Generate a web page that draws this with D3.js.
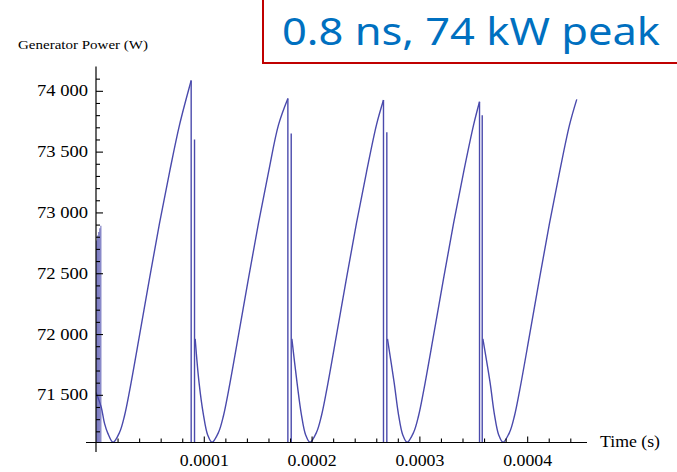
<!DOCTYPE html>
<html><head><meta charset="utf-8">
<script src="https://cdn.jsdelivr.net/npm/d3@7"></script>
<style>body{margin:0;background:#fff;} svg{display:block;}</style>
</head><body>
<svg id="c" width="677" height="472"></svg>
<script>
// ---- data (time in units of 10 microseconds, power in W) ----
const seg0T = [0, 0.48, 0.79, 1.09, 1.58, 2.18, 2.65, 3.11, 4.04, 4.97, 5.89, 6.82, 7.75, 8.83];
const seg0P = [71520, 71400, 71265, 71185, 71110, 71190, 71330, 71530, 71990, 72460, 72910, 73330, 73720, 74085];
const seg1T = [9.20, 9.56, 9.96, 10.36, 10.76, 11.36, 11.83, 12.29, 13.22, 14.15, 15.07, 16.00, 16.93, 17.80];
const seg1P = [71960, 71600, 71340, 71170, 71110, 71190, 71330, 71530, 71990, 72460, 72910, 73330, 73720, 73937];
const seg2T = [18.17, 18.65, 19.05, 19.45, 19.85, 20.45, 20.92, 21.38, 22.31, 23.24, 24.16, 25.09, 26.02, 26.67];
const seg2P = [71960, 71600, 71340, 71170, 71110, 71190, 71330, 71530, 71990, 72460, 72910, 73330, 73720, 73924];
const seg3T = [27.04, 27.66, 28.06, 28.46, 28.86, 29.46, 29.93, 30.39, 31.32, 32.25, 33.17, 34.10, 35.03, 35.58];
const seg3P = [71960, 71600, 71340, 71170, 71110, 71190, 71330, 71530, 71990, 72460, 72910, 73330, 73720, 73910];
const seg4T = [35.89, 36.56, 36.96, 37.36, 37.76, 38.36, 38.83, 39.29, 40.22, 41.15, 42.07, 43.00, 43.93, 44.6];
const seg4P = [71960, 71600, 71340, 71170, 71110, 71190, 71330, 71530, 71990, 72460, 72910, 73330, 73720, 73930];
const peakT = [8.83, 17.80, 26.67, 35.58];
const peakP = [74085, 73937, 73924, 73910];
const spikeT = [9.14, 18.11, 26.98, 35.83];
const spikeP = [73600, 73650, 73660, 73800];
const startSpikeT = [0.05, 0.15, 0.25, 0.35, 0.45];
const startSpikeP = [72770, 72810, 72840, 72870, 72890];

const yMajor = [71500, 72000, 72500, 73000, 73500, 74000];
const yLabels = ["71 500", "72 000", "72 500", "73 000", "73 500", "74 000"];
const xMajor = [0.0001, 0.0002, 0.0003, 0.0004];
const xLabels = ["0.0001", "0.0002", "0.0003", "0.0004"];

// ---- chart ----
const U = 1e-5; // data time unit in seconds
const svg = d3.select("#c");
const x = d3.scaleLinear().domain([0, 0.0004555]).range([96, 587]);
const y = d3.scaleLinear().domain([71108, 74200]).range([442.5, 66.5]);
const FONT = "'Liberation Serif', 'Times New Roman', serif";
const color = "#4a4aac";

svg.append("defs").append("clipPath").attr("id", "clip")
  .append("rect").attr("x", 96).attr("y", 60).attr("width", 500).attr("height", 382.5);

const plot = svg.append("g").attr("clip-path", "url(#clip)");
const line = d3.line().x(d => x(d[0] * U)).y(d => y(d[1])).curve(d3.curveCatmullRom.alpha(0.5));
const segs = [[seg0T, seg0P], [seg1T, seg1P], [seg2T, seg2P], [seg3T, seg3P], [seg4T, seg4P]];
segs.forEach(([T, P]) => {
  plot.append("path").datum(T.map((t, i) => [t, P[i]]))
    .attr("d", line).attr("fill", "none").attr("stroke", color).attr("stroke-width", 1.4);
});
const bottom = y.domain()[0] - 50;
peakT.forEach((t, i) => {
  plot.append("line").attr("x1", x(t * U)).attr("x2", x(t * U))
    .attr("y1", y(peakP[i])).attr("y2", y(bottom))
    .attr("stroke", color).attr("stroke-width", 1.4);
});
spikeT.forEach((t, i) => {
  plot.append("line").attr("x1", x(t * U)).attr("x2", x(t * U))
    .attr("y1", y(spikeP[i])).attr("y2", y(bottom))
    .attr("stroke", color).attr("stroke-width", 1.4);
});
startSpikeT.forEach((t, i) => {
  plot.append("line").attr("x1", x(t * U)).attr("x2", x(t * U))
    .attr("y1", y(startSpikeP[i])).attr("y2", y(bottom))
    .attr("stroke", color).attr("stroke-width", 1.2).attr("stroke-opacity", 0.7);
});

// axes
const ax = svg.append("g");
ax.append("line").attr("x1", 86).attr("x2", 587).attr("y1", y(71108)).attr("y2", y(71108))
  .attr("stroke", "#000").attr("stroke-width", 1.2);
ax.append("line").attr("x1", x(0)).attr("x2", x(0)).attr("y1", 452).attr("y2", 66.5)
  .attr("stroke", "#000").attr("stroke-width", 1.2);

const yMinor = d3.range(71200, 74200, 100).filter(v => v % 500 !== 0);
const gy = svg.append("g").attr("transform", `translate(${x(0)},0)`);
gy.call(d3.axisLeft(y).tickValues(yMinor).tickSize(-4).tickFormat(""));
gy.call(g => g.select(".domain").remove());
const gy2 = svg.append("g").attr("transform", `translate(${x(0)},0)`);
gy2.call(d3.axisLeft(y).tickValues(yMajor).tickSize(-7).tickPadding(8).tickFormat((d, i) => yLabels[i]));
gy2.call(g => g.select(".domain").remove());
gy2.selectAll("text").attr("font-family", FONT).attr("font-size", 16).attr("fill", "#000")
  .attr("textLength", 51).attr("lengthAdjust", "spacingAndGlyphs");

const xMinor = d3.range(1, 23).map(k => k * 0.00002).filter((v, i) => (i + 1) % 5 !== 0);
const gx = svg.append("g").attr("transform", `translate(0,${y(71108)})`);
gx.call(d3.axisBottom(x).tickValues(xMinor).tickSize(-4).tickFormat(""));
gx.call(g => g.select(".domain").remove());
const gx2 = svg.append("g").attr("transform", `translate(0,${y(71108)})`);
gx2.call(d3.axisBottom(x).tickValues(xMajor).tickSize(-6).tickPadding(12).tickFormat((d, i) => xLabels[i]));
gx2.call(g => g.select(".domain").remove());
gx2.selectAll("text").attr("font-family", FONT).attr("font-size", 16).attr("fill", "#000")
  .attr("textLength", 49).attr("lengthAdjust", "spacingAndGlyphs");
svg.selectAll(".tick line").attr("stroke", "#000").attr("stroke-width", 1.1);

svg.append("text").attr("x", 600).attr("y", 447).attr("font-family", FONT).attr("font-size", 16)
  .attr("fill", "#000").attr("textLength", 60).attr("lengthAdjust", "spacingAndGlyphs").text("Time (s)");
svg.append("text").attr("x", 18).attr("y", 49).attr("font-family", FONT).attr("font-size", 13)
  .attr("fill", "#000").attr("textLength", 130).attr("lengthAdjust", "spacingAndGlyphs")
  .text("Generator Power (W)");

// title box
svg.append("rect").attr("x", 263).attr("y", -5).attr("width", 430).attr("height", 68)
  .attr("fill", "#fff").attr("stroke", "#c00000").attr("stroke-width", 2);
svg.append("text").attr("x", 282).attr("y", 45).attr("font-family", "'Noto Sans', 'DejaVu Sans', sans-serif")
  .attr("font-size", 38).attr("fill", "#0070c0").attr("textLength", 378).attr("lengthAdjust", "spacingAndGlyphs")
  .text("0.8 ns, 74 kW peak");
</script>
</body></html>
